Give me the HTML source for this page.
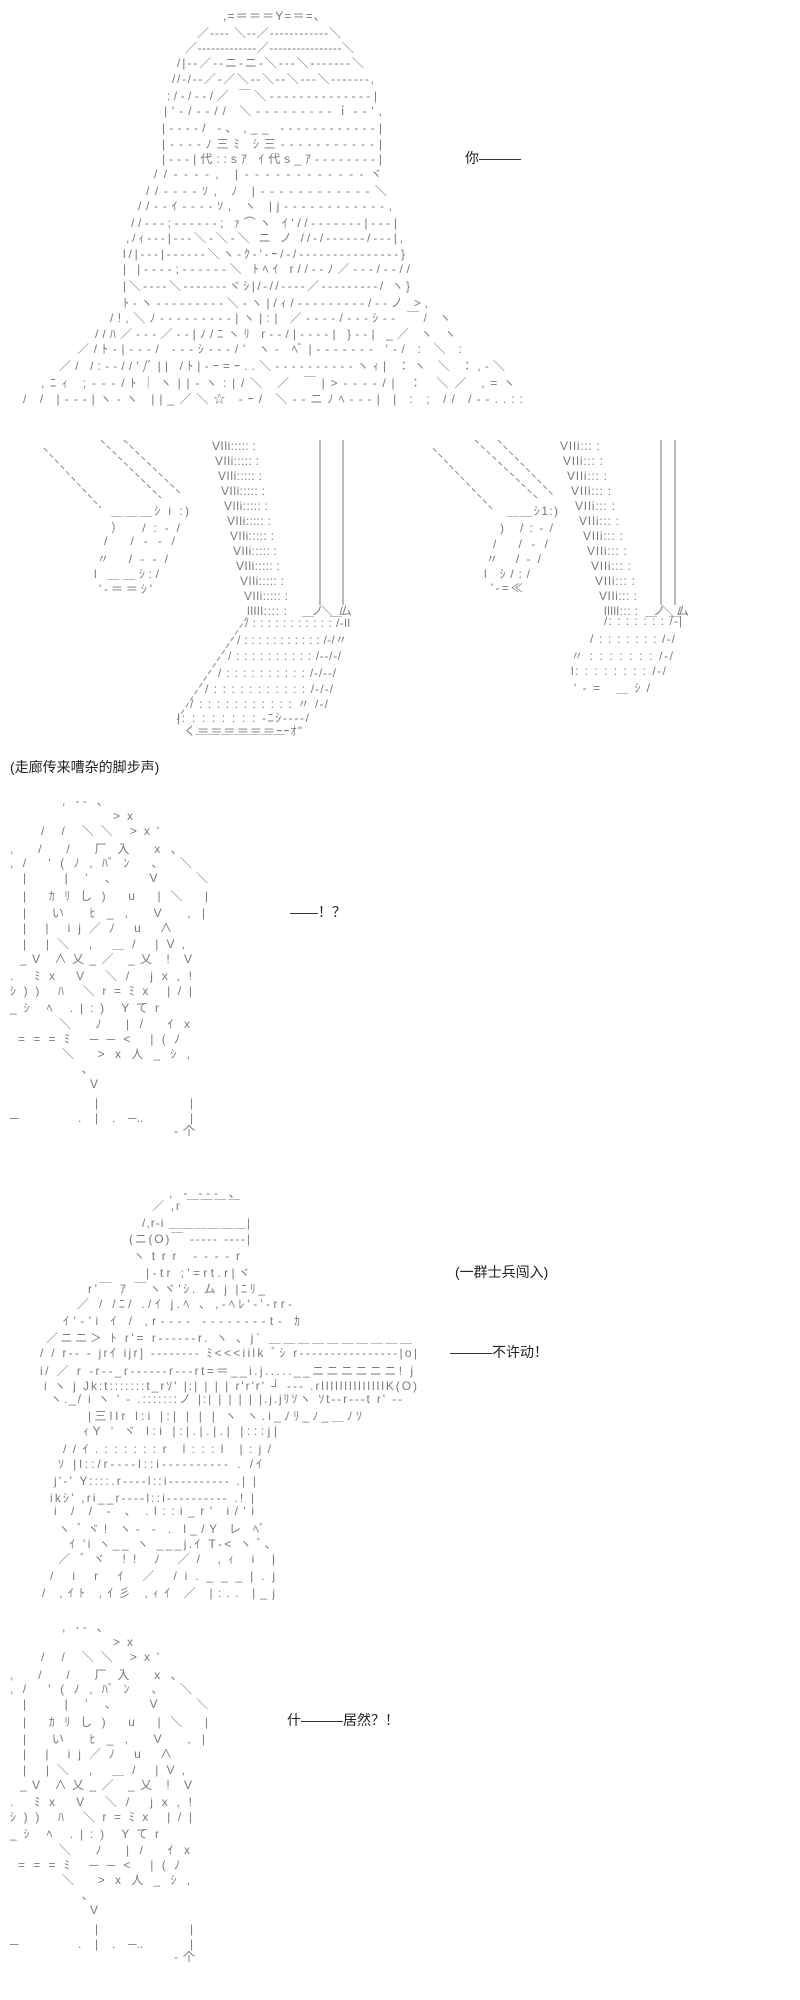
<!DOCTYPE html>
<html><head><meta charset="utf-8">
<style>
html,body{margin:0;padding:0;background:#fff;}
body{width:800px;height:2000px;overflow:hidden;}
svg{display:block;}
.a{font-family:"Liberation Sans","Noto Sans CJK JP",sans-serif;font-size:12px;fill:#7a7a7a;}
.t{font-family:"Liberation Sans","Noto Sans CJK SC",sans-serif;font-size:14px;fill:#222;}
.d{stroke:#8a8a8a;stroke-width:1;stroke-dasharray:5 3;fill:none;}
</style></head><body>
<svg width="800" height="2000" viewBox="0 0 800 2000" xmlns="http://www.w3.org/2000/svg">
<g class="a">
<!-- hair figure -->
<text x="223" y="20" textLength="97" lengthAdjust="spacing">,=＝＝＝Y=＝=､</text>
<text x="197" y="37" textLength="144" lengthAdjust="spacing">／‐‐‐‐ ＼‐‐／‐‐‐‐‐‐‐‐‐‐‐‐＼</text>
<text x="185" y="52" textLength="169" lengthAdjust="spacing">／‐‐‐‐‐‐‐‐‐‐‐‐‐／‐‐‐‐‐‐‐‐‐‐‐‐‐‐‐‐＼</text>
<text x="177" y="67" textLength="187" lengthAdjust="spacing">/|‐‐／‐‐ニ‐ニ‐＼‐‐‐＼‐‐‐‐‐‐‐＼</text>
<text x="172" y="83" textLength="202" lengthAdjust="spacing">//‐/‐‐／‐／＼‐‐＼‐‐＼‐‐‐＼‐‐‐‐‐‐‐,</text>
<text x="167" y="100" textLength="210" lengthAdjust="spacing">:/‐/‐‐/／      ￣＼‐‐‐‐‐‐‐‐‐‐‐‐‐‐|</text>
<text x="164" y="115" textLength="218" lengthAdjust="spacing">|'‐/‐‐//             ＼‐‐‐‐‐‐‐‐‐ｉ‐‐',</text>
<text x="162" y="132" textLength="220" lengthAdjust="spacing">|‐‐‐‐/ ‐､          ,__    ‐‐‐‐‐‐‐‐‐‐‐‐|</text>
<text x="162" y="148" textLength="220" lengthAdjust="spacing">|‐‐‐‐ﾉ三ﾐ            ｼ三‐‐‐‐‐‐‐‐‐‐‐|</text>
<text x="162" y="163" textLength="220" lengthAdjust="spacing">|‐‐‐|代::sｱ        ｲ代s_ｱ‐‐‐‐‐‐‐‐|</text>
<text x="154" y="178" textLength="228" lengthAdjust="spacing">//‐‐‐‐,                           |‐‐‐‐‐‐‐‐‐‐‐‐ヾ</text>
<text x="146" y="195" textLength="241" lengthAdjust="spacing">//‐‐‐‐ｿ,       ﾉ                 |‐‐‐‐‐‐‐‐‐‐‐‐＼</text>
<text x="138" y="210" textLength="254" lengthAdjust="spacing">//‐‐ｲ‐‐‐‐ｿ,      ヽ             |j‐‐‐‐‐‐‐‐‐‐‐‐,</text>
<text x="131" y="227" textLength="266" lengthAdjust="spacing">//‐‐‐;‐‐‐‐‐‐;    ｧ⌒ヽ    ｲ'//‐‐‐‐‐‐‐|‐‐‐|</text>
<text x="126" y="242" textLength="277" lengthAdjust="spacing">,/ｨ‐‐‐|‐‐‐＼‐＼‐＼   ニ ノ   //‐/‐‐‐‐‐‐/‐‐‐|,</text>
<text x="123" y="258" textLength="282" lengthAdjust="spacing">l/|‐‐‐|‐‐‐‐‐‐＼ヽ‐ｸ‐'‐ｰ/‐/‐‐‐‐‐‐‐‐‐‐‐‐‐‐‐}</text>
<text x="123" y="273" textLength="287" lengthAdjust="spacing">| |‐‐‐‐;‐‐‐‐‐‐＼ ﾄﾍｲ r//‐‐ﾉ／‐‐‐/‐‐//</text>
<text x="123" y="290" textLength="287" lengthAdjust="spacing">|＼‐‐‐‐＼‐‐‐‐‐‐‐ヾｼ|/‐//‐‐‐‐／‐‐‐‐‐‐‐‐‐/ ヽ}</text>
<text x="123" y="307" textLength="305" lengthAdjust="spacing">ﾄ‐ヽ‐‐‐‐‐‐‐‐‐＼‐ヽ|/ｨ/‐‐‐‐‐‐‐‐‐/‐‐ノ     &gt;,</text>
<text x="110" y="322" textLength="341" lengthAdjust="spacing">/!,＼ﾉ‐‐‐‐‐‐‐‐‐|ヽ|:|  ／‐‐‐‐/‐‐‐ｼ‐‐  ￣/      ヽ</text>
<text x="95" y="338" textLength="361" lengthAdjust="spacing">//ﾊ／‐‐‐／‐‐|ﾉ/ﾆヽﾘ r‐‐/|‐‐‐‐|  }‐‐| _／  ヽ   ヽ</text>
<text x="77" y="353" textLength="385" lengthAdjust="spacing">／/ﾄ-|‐‐‐/ ‐‐‐ｼ‐‐‐/'  ヽ- ﾍﾞ|‐‐‐‐‐‐‐ '‐/  :   ＼    :</text>
<text x="59" y="370" textLength="446" lengthAdjust="spacing">／/  /:‐‐//'/ﾞ|| /ﾄ|‐ｰ=ｰ..＼‐‐‐‐‐‐‐‐‐‐ヽｨ|  ：ヽ ＼  ：,‐＼</text>
<text x="41" y="387" textLength="474" lengthAdjust="spacing">,ﾆｨ    ;‐‐‐/ﾄ｜ヽ||‐ヽ:|/＼    ／ ￣|&gt;‐‐‐‐/|  ：   ＼／   ,=ヽ</text>
<text x="23" y="403" textLength="500" lengthAdjust="spacing">/ /        |‐‐‐|ヽ‐ヽ ||_／＼☆ ‐ｰ/ ＼‐‐ニﾉﾍ‐‐‐| |  :  ;   // /‐‐..::</text>

<!-- legs left -->
<text x="111" y="515" textLength="78" lengthAdjust="spacing">＿＿＿ｼ i :)</text>
<text x="111" y="532" textLength="69" lengthAdjust="spacing">）     /:‐/</text>
<text x="104" y="545" textLength="71" lengthAdjust="spacing">/      /‐‐/</text>
<text x="97" y="563" textLength="71" lengthAdjust="spacing">〃     /‐‐/</text>
<text x="94" y="578" textLength="65" lengthAdjust="spacing">l ＿＿ｼ:/</text>
<text x="99" y="593" textLength="53" lengthAdjust="spacing">'‐＝＝ｼ'</text>
<text x="212" y="450" textLength="44" lengthAdjust="spacing">VIIi::::: :</text>
<text x="215" y="465" textLength="44" lengthAdjust="spacing">VIIi::::: :</text>
<text x="218" y="480" textLength="44" lengthAdjust="spacing">VIIi::::: :</text>
<text x="221" y="495" textLength="44" lengthAdjust="spacing">VIIi::::: :</text>
<text x="224" y="510" textLength="44" lengthAdjust="spacing">VIIi::::: :</text>
<text x="227" y="525" textLength="44" lengthAdjust="spacing">VIIi::::: :</text>
<text x="230" y="540" textLength="44" lengthAdjust="spacing">VIIi::::: :</text>
<text x="233" y="555" textLength="44" lengthAdjust="spacing">VIIi::::: :</text>
<text x="236" y="570" textLength="44" lengthAdjust="spacing">VIIi::::: :</text>
<text x="240" y="585" textLength="44" lengthAdjust="spacing">VIIi::::: :</text>
<text x="244" y="600" textLength="44" lengthAdjust="spacing">VIIi::::: :</text>
<text x="247" y="615" textLength="40" lengthAdjust="spacing">lllll:::: :</text>
<text x="302" y="615" textLength="50" lengthAdjust="spacing">＿ノ＼＿/ム</text>
<text x="245" y="627" textLength="105" lengthAdjust="spacing">/ : : : : : : : : : : : /‐ll</text>
<text x="237" y="644" textLength="110" lengthAdjust="spacing">/ : : : : : : : : : : : /‐/〃</text>
<text x="228" y="660" textLength="113" lengthAdjust="spacing">/ : : : : : : : : : : /‐‐/‐/</text>
<text x="218" y="677" textLength="118" lengthAdjust="spacing">/ : : : : : : : : : : /‐/‐‐/</text>
<text x="205" y="693" textLength="128" lengthAdjust="spacing">/ : : : : : : : : : : : /‐/‐/</text>
<text x="190" y="708" textLength="138" lengthAdjust="spacing">/ : : : : : : : : : : : 〃 /‐/</text>
<text x="177" y="722" textLength="132" lengthAdjust="spacing">|: : : : : : : : ‐ﾆｼ‐‐‐‐/</text>
<text x="184" y="735" textLength="118" lengthAdjust="spacing">く＝＝＝＝＝＝ｰｰｵ"</text>
<text x="195" y="745" textLength="90" lengthAdjust="spacing">￣￣￣￣￣￣￣</text>

<!-- legs right -->
<text x="507" y="515" textLength="51" lengthAdjust="spacing">＿＿ｼ1:)</text>
<text x="500" y="532" textLength="53" lengthAdjust="spacing">)    /:‐/</text>
<text x="493" y="548" textLength="55" lengthAdjust="spacing">/    /‐/</text>
<text x="486" y="563" textLength="55" lengthAdjust="spacing">〃   /‐/</text>
<text x="484" y="578" textLength="46" lengthAdjust="spacing">l  ｼ/:/</text>
<text x="491" y="592" textLength="32" lengthAdjust="spacing">'‐=≪</text>
<text x="560" y="450" textLength="40" lengthAdjust="spacing">VIIi::: :</text>
<text x="563" y="465" textLength="40" lengthAdjust="spacing">VIIi::: :</text>
<text x="567" y="480" textLength="40" lengthAdjust="spacing">VIIi::: :</text>
<text x="571" y="495" textLength="40" lengthAdjust="spacing">VIIi::: :</text>
<text x="575" y="510" textLength="40" lengthAdjust="spacing">VIIi::: :</text>
<text x="579" y="525" textLength="40" lengthAdjust="spacing">VIIi::: :</text>
<text x="583" y="540" textLength="40" lengthAdjust="spacing">VIIi::: :</text>
<text x="587" y="555" textLength="40" lengthAdjust="spacing">VIIi::: :</text>
<text x="591" y="570" textLength="40" lengthAdjust="spacing">VIIi::: :</text>
<text x="595" y="585" textLength="40" lengthAdjust="spacing">VIIi::: :</text>
<text x="599" y="600" textLength="38" lengthAdjust="spacing">VIIi::: :</text>
<text x="604" y="615" textLength="34" lengthAdjust="spacing">lllll::: :</text>
<text x="645" y="615" textLength="44" lengthAdjust="spacing">＿ノ＼＿/ム</text>
<text x="604" y="625" textLength="78" lengthAdjust="spacing">/: : : : : : : /‐|</text>
<text x="590" y="643" textLength="85" lengthAdjust="spacing">/ : : : : : : : /‐/</text>
<text x="571" y="660" textLength="102" lengthAdjust="spacing">〃 : : : : : : : /‐/</text>
<text x="571" y="675" textLength="95" lengthAdjust="spacing">l: : : : : : : : /‐/</text>
<text x="574" y="692" textLength="76" lengthAdjust="spacing">'‐=       ＿ｼ/</text>

<!-- figure 2 -->
<g id="f2">
<text x="62" y="805" textLength="41" lengthAdjust="spacing">,  ‐‐  ､</text>
<text x="113" y="820" textLength="20" lengthAdjust="spacing">&gt;x</text>
<text x="41" y="835" textLength="118" lengthAdjust="spacing">/      /  ＼＼    &gt;x'</text>
<text x="10" y="853" textLength="167" lengthAdjust="spacing">,  /     /   厂入            x､</text>
<text x="10" y="867" textLength="182" lengthAdjust="spacing">,/        '(ﾉ,ﾊﾞﾝ ､                 ＼</text>
<text x="23" y="882" textLength="185" lengthAdjust="spacing">|       |'､            V                  ＼</text>
<text x="23" y="900" textLength="185" lengthAdjust="spacing">|       ｶﾘし)   u   |＼                  |</text>
<text x="23" y="917" textLength="182" lengthAdjust="spacing">|     い   ﾋ_,               V            ,|</text>
<text x="23" y="932" textLength="149" lengthAdjust="spacing">|       |     ij／ﾉ   u    ∧</text>
<text x="23" y="948" textLength="162" lengthAdjust="spacing">|       |＼         ,  ＿/    |V,</text>
<text x="20" y="963" textLength="172" lengthAdjust="spacing">_V    ∧乂_／    _乂      ! V</text>
<text x="10" y="980" textLength="182" lengthAdjust="spacing">. ﾐx       V        ＼/          jx,!</text>
<text x="10" y="995" textLength="182" lengthAdjust="spacing">ｼ))  ﾊ       ＼r=ﾐx          |/|</text>
<text x="10" y="1012" textLength="149" lengthAdjust="spacing">_ｼ ﾍ          .|:)   Yてr</text>
<text x="59" y="1028" textLength="131" lengthAdjust="spacing">＼            ﾉ    |/ ｲx</text>
<text x="18" y="1043" textLength="162" lengthAdjust="spacing">===ﾐ     ──&lt;         |(ﾉ</text>
<text x="62" y="1058" textLength="128" lengthAdjust="spacing">＼              &gt;x人_ｼ,</text>
<text x="82" y="1073">､</text>
<text x="90" y="1088">V</text>
<text x="95" y="1107">|</text>
<text x="190" y="1107">|</text>
<text x="10" y="1122">─</text>
<text x="78" y="1122">.</text>
<text x="95" y="1122">|</text>
<text x="112" y="1122">.</text>
<text x="128" y="1122">─..</text>
<text x="190" y="1122">|</text>
<text x="174" y="1135" textLength="21" lengthAdjust="spacing">-个</text>
</g>
<use href="#f2" x="0" y="826"/>

<!-- soldier -->
<text x="169" y="1197" textLength="66" lengthAdjust="spacing">,  ‐  ‐‐‐  ､</text>
<text x="152" y="1210" textLength="88" lengthAdjust="spacing">／  ,r ￣￣￣￣</text>
<text x="142" y="1227" textLength="108" lengthAdjust="spacing">/,r‐i ＿＿＿＿＿＿|</text>
<text x="129" y="1243" textLength="121" lengthAdjust="spacing">(ニ(O)￣ ‐‐‐‐‐ ‐‐‐‐|</text>
<text x="133" y="1260" textLength="107" lengthAdjust="spacing">ヽtrr       ‐‐‐‐r</text>
<text x="146" y="1277" textLength="104" lengthAdjust="spacing">|-tr   ;'=rt.r|ヾ</text>
<text x="88" y="1293" textLength="177" lengthAdjust="spacing">r'￣  ｱ ￣ヽヾ'ｼ.      ム j |ﾆﾘ_</text>
<text x="77" y="1308" textLength="215" lengthAdjust="spacing">／    / /ﾆ/ ./ｲ j.ﾍ  ､ ,‐ﾍﾚ'‐'‐rr‐</text>
<text x="63" y="1325" textLength="237" lengthAdjust="spacing">ｲ'‐'i ｲ       / ,r‐‐‐‐  ‐‐‐‐‐‐‐‐t‐   ｶ</text>
<text x="46" y="1342" textLength="366" lengthAdjust="spacing">／ニニ＞ ﾄ     r'=  r‐‐‐‐‐‐r.     ヽ ､ j` ＿＿＿＿＿＿＿＿＿＿</text>
<text x="40" y="1357" textLength="377" lengthAdjust="spacing">/ /    r‐‐ ‐ jrｲ  ijr]  ‐‐‐‐‐‐‐‐ ﾐ&lt;&lt;&lt;iilk ﾞｼ r‐‐‐‐‐‐‐‐‐‐‐‐‐‐‐‐|o|</text>
<text x="40" y="1375" textLength="373" lengthAdjust="spacing">i/   ／     r ‐r‐‐_r‐‐‐‐‐‐r‐‐‐rt=＝__i.j.....__ニニニニニニ! j</text>
<text x="44" y="1390" textLength="373" lengthAdjust="spacing">i   ヽ    j Jk:t:::::::t_rｿ' |:| | | | r'r'r' ┘ ‐‐‐ .rllllllllllllllK(O)</text>
<text x="50" y="1403" textLength="352" lengthAdjust="spacing">ヽ._/ i   ヽ  ' ‐ .:::::::ノ    |:| | | | | |.j.jﾘｿヽ ｿt‐‐r‐‐‐t r' ‐‐</text>
<text x="88" y="1420" textLength="274" lengthAdjust="spacing">|三llr        l:i          |:| | | |    ヽ ヽ.i_ﾉﾘ_ﾉ_＿ﾉｿ</text>
<text x="83" y="1435" textLength="194" lengthAdjust="spacing">ｨY ' ヾ        l:i          |:|.|.|.|      |:::j|</text>
<text x="63" y="1453" textLength="208" lengthAdjust="spacing">//ｲ.::::::r        l:::l                      |:j/</text>
<text x="58" y="1468" textLength="204" lengthAdjust="spacing">ｿ    |l::/r‐‐‐‐l::i‐‐‐‐‐‐‐‐‐‐ . /ｲ</text>
<text x="54" y="1485" textLength="202" lengthAdjust="spacing">j'‐'  Y::::.r‐‐‐‐l::i‐‐‐‐‐‐‐‐‐‐ .| |</text>
<text x="50" y="1502" textLength="204" lengthAdjust="spacing">ikｼ'    ,ri__r‐‐‐‐l::i‐‐‐‐‐‐‐‐‐‐ .! |</text>
<text x="54" y="1515" textLength="200" lengthAdjust="spacing">i    / /      ‐ ､   .l::i_r'           i/'i</text>
<text x="58" y="1533" textLength="207" lengthAdjust="spacing">ヽ ﾞヾ!    ヽ‐  ‐ .      l_/Y       レ ﾍﾞ</text>
<text x="69" y="1548" textLength="202" lengthAdjust="spacing">ｲ    'i   ヽ__  ヽ ___j.ｲ   T‐&lt;   ヽ ﾞ､</text>
<text x="58" y="1563" textLength="217" lengthAdjust="spacing">／ ﾞヾ      !!             ﾉ  ／/ ,ｨ i |</text>
<text x="50" y="1580" textLength="225" lengthAdjust="spacing">/          i          r   ｲ   ／    /i.___|.j</text>
<text x="42" y="1597" textLength="233" lengthAdjust="spacing">/            ,ｲﾄ        ,ｲ彡 ,ｨｲ    ／    |:.. |_j</text>
</g>

<!-- leg lines -->
<line class="d" x1="44" y1="448" x2="101" y2="508"/>
<line class="d" x1="101" y1="440" x2="161" y2="498"/>
<line class="d" x1="124" y1="440" x2="182" y2="495"/>
<line class="d" x1="433" y1="448" x2="493" y2="510"/>
<line class="d" x1="475" y1="440" x2="537" y2="498"/>
<line class="d" x1="498" y1="440" x2="553" y2="495"/>
<line x1="320" y1="440" x2="320" y2="605" stroke="#777"/>
<line x1="343" y1="440" x2="343" y2="605" stroke="#777"/>
<line x1="661" y1="440" x2="661" y2="605" stroke="#777"/>
<line x1="675" y1="440" x2="675" y2="605" stroke="#777"/>
<line class="d" x1="247" y1="617" x2="177" y2="720"/>

<!-- dialogue -->
<text class="t" x="465" y="163">你———</text>
<text class="t" x="10" y="772" font-size="13">(走廊传来嘈杂的脚步声)</text>
<text class="t" x="290" y="917">——！？</text>
<text class="t" x="455" y="1277" font-size="13">(一群士兵闯入)</text>
<text class="t" x="450" y="1357">———不许动！</text>
<text class="t" x="287" y="1725">什———居然？！</text>
</svg>
</body></html>
